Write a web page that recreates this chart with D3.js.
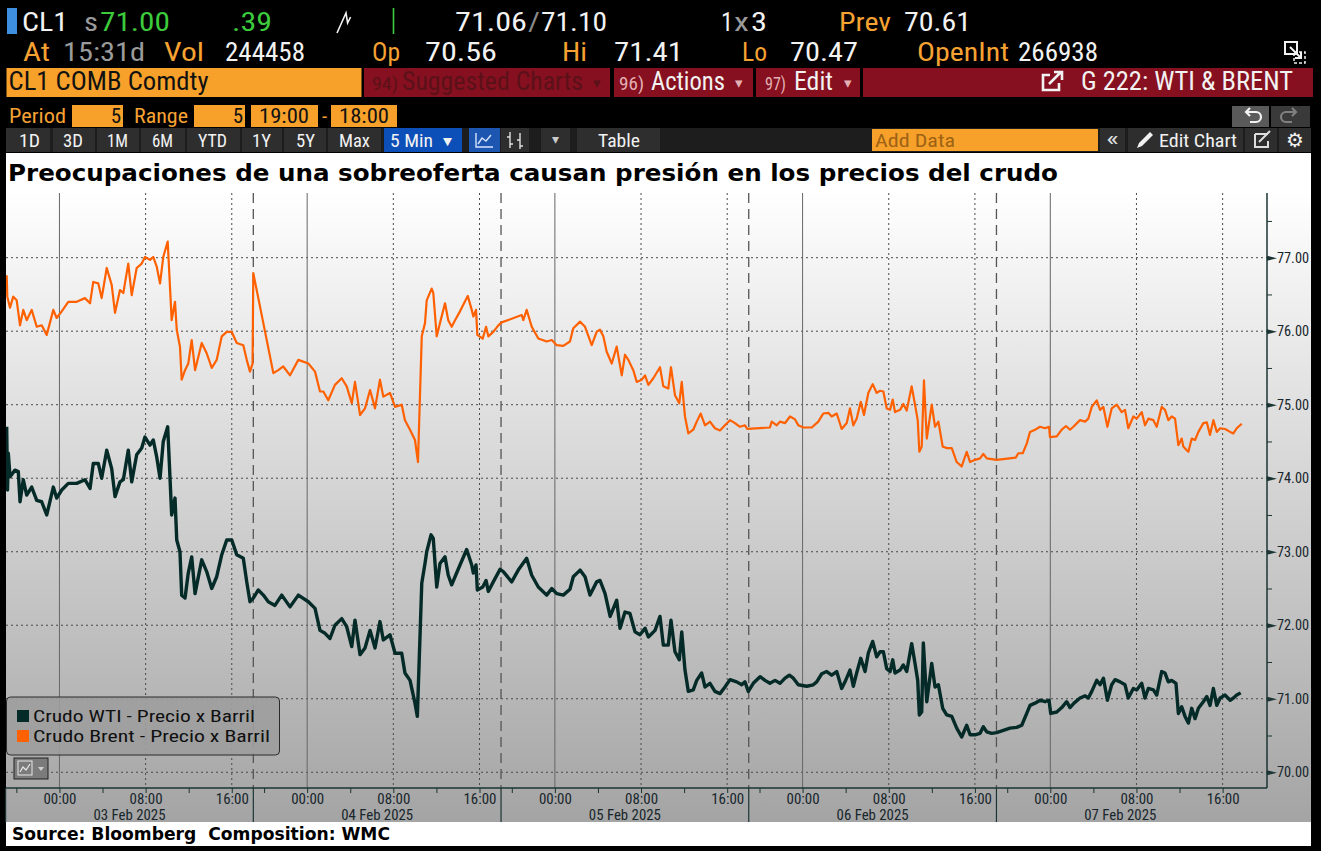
<!DOCTYPE html>
<html>
<head>
<meta charset="utf-8">
<script src="https://cdn.jsdelivr.net/npm/d3@7"></script>
<style>
  html, body { margin: 0; padding: 0; background: #000; overflow: hidden; }
  svg { display: block; }
</style>
</head>
<body>
<svg id="chart"></svg>
<script>
// ---------------- data ----------------
// x values are trading hours counted from the 19:00 open of the first session (02 Feb)
const sessionDays = ['03 Feb 2025', '04 Feb 2025', '05 Feb 2025', '06 Feb 2025', '07 Feb 2025'];
const sessionHours = 23; // 19:00 -> 18:00
const timeTickOffsets = [1, 5, 9, 13, 17, 21];
const timeTickLabels = ['', '00:00', '', '08:00', '', '16:00'];
const priceTicks = [70, 71, 72, 73, 74, 75, 76, 77];
const priceMinorTicks = [70.5, 71.5, 72.5, 73.5, 74.5, 75.5, 76.5, 77.5];
const seriesNames = ['Crudo WTI - Precio x Barril', 'Crudo Brent - Precio x Barril'];

const brentHours = [0.10,0.16,0.41,0.71,1.03,1.34,1.64,1.96,2.42,2.89,3.35,3.82,4.43,4.74,5.21,5.82,6.60,7.37,7.84,8.14,8.61,8.92,9.39,9.85,10.16,10.62,10.93,11.39,11.71,12.17,12.64,12.94,13.41,13.71,14.03,14.34,14.64,15.05,15.42,15.73,15.89,16.19,16.35,16.66,16.96,17.28,17.59,18.21,18.67,19.14,19.60,20.07,20.53,21.00,21.46,22.07,22.39,22.69,22.93,23.00,23.93,24.86,25.32,25.78,26.41,27.18,28.11,28.73,29.19,29.50,29.96,30.58,31.21,31.67,32.14,32.44,32.91,33.37,33.84,34.30,34.76,35.07,35.69,36.16,36.78,37.08,37.55,38.01,38.29,38.64,38.94,39.10,39.56,39.71,40.03,40.33,40.80,41.10,41.42,41.73,42.19,42.91,43.28,43.43,43.68,43.80,44.30,44.61,44.82,45.28,45.75,46.06,47.92,48.07,48.38,48.85,49.46,50.24,50.71,51.17,51.78,52.40,52.71,53.34,53.80,54.42,54.88,55.19,55.50,55.81,56.28,56.74,57.21,57.51,57.82,58.28,58.60,59.06,59.37,59.68,60.14,60.76,61.07,61.53,61.78,62.15,62.55,62.78,63.08,63.39,63.85,64.17,64.54,64.94,65.40,65.86,66.33,66.79,67.26,67.72,68.19,68.65,68.87,70.97,71.13,71.60,71.90,72.37,72.83,73.30,73.60,74.07,74.85,75.46,75.92,76.39,76.70,77.17,77.63,78.10,78.40,78.71,79.02,79.40,79.70,80.10,80.51,80.88,81.19,81.50,81.81,82.12,82.37,82.58,83.05,83.35,83.67,84.13,84.44,84.69,84.84,85.06,85.27,85.53,85.99,86.30,86.61,87.01,87.38,87.85,88.31,88.77,89.24,89.55,90.01,90.48,90.78,91.10,91.56,92.02,93.79,94.03,94.44,94.81,95.12,95.58,96.05,96.51,96.88,96.97,97.60,98.06,98.46,98.83,99.14,99.76,100.23,100.53,100.85,101.31,101.62,101.93,102.30,102.70,103.17,103.63,103.94,104.24,104.71,105.02,105.49,105.79,106.10,106.57,106.88,107.34,107.65,107.96,108.27,108.58,108.89,109.20,109.35,109.67,109.82,110.13,110.44,110.75,111.21,111.53,111.83,112.14,112.46,112.77,113.23,113.70,114.00,114.31,114.62,114.77];
const brentPrices = [76.76,76.47,76.32,76.47,76.42,76.08,76.29,76.15,76.29,76.06,76.08,75.95,76.29,76.18,76.27,76.40,76.40,76.45,76.38,76.67,76.65,76.45,76.86,76.63,76.25,76.56,76.52,76.92,76.49,76.86,76.92,77.01,76.97,77.01,76.88,76.65,77.01,77.22,76.15,76.40,76.02,75.79,75.34,75.47,75.56,75.88,75.47,75.84,75.70,75.50,75.61,75.93,75.99,75.99,75.84,75.81,75.61,75.45,75.56,76.79,76.11,75.43,75.47,75.52,75.40,75.61,75.56,75.45,75.18,75.18,75.06,75.27,75.36,75.25,75.02,75.31,74.86,74.95,75.20,74.95,75.34,75.11,75.16,74.97,75.00,74.79,74.66,74.52,74.22,75.93,76.11,76.42,76.58,76.52,75.93,76.11,76.38,76.15,76.06,76.15,76.27,76.48,76.29,76.20,76.29,75.95,75.90,76.06,75.93,75.99,76.08,76.12,76.22,76.15,76.29,76.06,75.90,75.86,75.88,75.81,75.80,75.86,76.04,76.13,76.06,75.81,75.99,76.02,75.93,75.72,75.56,75.79,75.40,75.68,75.61,75.47,75.31,75.34,75.40,75.27,75.36,75.51,75.25,75.22,75.51,75.13,75.02,75.31,74.84,74.61,74.66,74.77,74.88,74.72,74.77,74.68,74.65,74.72,74.79,74.75,74.70,74.72,74.67,74.69,74.77,74.72,74.77,74.75,74.84,74.80,74.72,74.69,74.69,74.77,74.88,74.89,74.84,74.88,74.67,74.75,74.95,74.72,74.81,75.04,74.86,75.16,75.28,75.16,75.19,75.18,74.95,74.93,75.07,74.90,74.93,75.01,74.92,75.25,75.00,74.79,74.36,74.43,75.33,74.54,75.00,74.70,74.77,74.43,74.41,74.41,74.22,74.16,74.36,74.22,74.25,74.27,74.33,74.27,74.26,74.25,74.28,74.34,74.34,74.47,74.63,74.66,74.70,74.68,74.70,74.56,74.57,74.66,74.71,74.66,74.70,74.79,74.77,74.81,74.97,75.06,74.93,74.97,74.70,74.95,75.00,74.90,74.93,74.68,74.84,74.81,74.90,74.72,74.81,74.79,74.70,74.97,74.93,74.79,74.84,74.81,74.45,74.54,74.43,74.38,74.36,74.54,74.52,74.63,74.75,74.76,74.59,74.79,74.63,74.68,74.67,74.63,74.61,74.68,74.72,74.74];

const wtiHours = [0.10,0.18,0.25,0.41,0.87,1.18,1.34,1.64,1.96,2.42,2.89,3.35,3.82,4.43,4.74,5.21,5.82,6.60,7.37,7.84,8.14,8.61,8.92,9.39,9.85,10.16,10.62,10.93,11.39,11.71,12.17,12.64,12.94,13.41,13.71,14.03,14.34,14.64,15.05,15.42,15.73,15.89,16.19,16.35,16.66,16.96,17.28,17.59,18.21,18.67,19.14,19.60,20.07,20.53,21.00,21.46,22.07,22.39,22.69,23.00,23.46,23.93,24.39,25.01,25.64,26.41,27.18,28.11,28.73,29.19,29.66,30.12,30.58,31.21,31.67,32.14,32.44,32.91,33.37,33.84,34.30,34.76,35.07,35.69,36.16,36.78,37.08,37.55,38.01,38.23,38.64,38.94,39.10,39.50,39.71,40.03,40.33,40.80,41.10,41.42,41.73,42.19,42.81,43.28,43.43,43.68,43.80,44.30,44.61,44.82,45.28,45.91,46.21,46.99,47.60,48.38,48.85,49.46,50.24,50.71,51.17,51.78,52.40,52.71,53.34,53.80,54.26,54.88,55.19,55.66,56.13,56.74,57.05,57.51,57.97,58.44,58.90,59.37,59.68,60.30,60.76,61.07,61.53,61.78,62.15,62.55,62.78,63.08,63.39,63.85,64.17,64.63,64.94,65.40,65.86,66.33,66.79,67.26,67.88,68.35,68.65,68.96,69.42,70.05,70.51,70.97,71.44,71.90,72.37,72.77,73.14,73.60,74.38,74.99,75.31,75.78,76.24,76.70,77.17,77.63,77.94,78.40,78.71,79.02,79.40,79.80,80.10,80.51,80.88,81.19,81.50,81.81,82.12,82.37,82.58,83.05,83.35,83.67,84.13,84.44,84.69,84.84,85.06,85.21,85.53,85.99,86.30,86.61,87.01,87.38,87.85,88.31,88.77,89.24,89.55,90.01,90.48,90.78,91.10,91.56,92.02,92.64,93.26,93.88,94.35,94.81,95.12,95.58,96.05,96.51,96.88,97.04,97.60,98.06,98.52,98.83,99.20,99.76,100.23,100.53,100.85,101.31,101.62,101.93,102.30,102.70,103.01,103.48,103.94,104.24,104.71,105.02,105.49,105.79,106.10,106.57,106.88,107.34,107.65,107.96,108.27,108.67,108.89,109.20,109.51,109.82,110.13,110.44,110.75,111.21,111.53,111.83,112.14,112.46,112.77,113.23,113.70,114.00,114.31,114.68];
const wtiPrices = [74.70,73.84,74.34,74.02,74.11,74.09,73.68,73.98,73.77,73.88,73.70,73.68,73.50,73.88,73.73,73.84,73.93,73.93,73.98,73.86,74.20,74.20,74.00,74.38,74.13,73.75,73.95,73.98,74.38,73.95,74.32,74.41,74.56,74.45,74.52,74.29,74.00,74.50,74.70,73.50,73.73,73.16,73.00,72.41,72.37,72.71,72.93,72.43,72.89,72.73,72.50,72.66,72.96,73.16,73.16,72.96,72.91,72.59,72.32,72.37,72.48,72.41,72.32,72.27,72.41,72.25,72.41,72.32,72.23,71.93,71.89,71.82,72.00,72.09,71.98,71.71,72.07,71.60,71.69,71.93,71.69,72.05,71.80,71.87,71.62,71.62,71.35,71.25,70.94,70.76,72.57,72.84,73.00,73.23,73.18,72.52,72.84,72.93,72.68,72.55,72.66,72.82,73.03,72.82,72.71,72.82,72.48,72.52,72.61,72.46,72.59,72.76,72.73,72.59,72.75,72.91,72.68,72.52,72.41,72.50,72.43,72.41,72.49,72.66,72.75,72.66,72.41,72.59,72.61,72.43,72.12,72.34,71.96,72.18,72.16,71.91,71.87,71.96,71.84,71.93,72.12,71.73,71.73,72.07,71.64,71.53,71.91,71.39,71.10,71.12,71.25,71.35,71.16,71.21,71.10,71.07,71.16,71.26,71.23,71.19,71.23,71.10,71.21,71.30,71.25,71.21,71.25,71.21,71.28,71.32,71.28,71.19,71.17,71.19,71.23,71.34,71.37,71.32,71.37,71.14,71.23,71.39,71.17,71.35,71.55,71.37,71.62,71.78,71.57,71.64,71.64,71.41,71.37,71.53,71.35,71.39,71.46,71.37,71.75,71.48,71.25,70.78,70.82,71.76,70.96,71.48,71.16,71.19,70.87,70.78,70.76,70.60,70.48,70.64,70.51,70.51,70.53,70.62,70.55,70.53,70.54,70.57,70.60,70.61,70.64,70.80,70.91,70.94,70.98,70.96,70.98,70.80,70.82,70.88,70.96,70.88,70.94,71.01,71.04,71.01,71.10,71.25,71.19,71.28,70.98,71.19,71.26,71.23,71.19,71.01,71.14,71.12,71.21,71.01,71.14,71.12,71.05,71.37,71.35,71.23,71.25,71.21,70.80,70.89,70.76,70.67,70.87,70.73,70.87,70.96,71.03,70.91,71.14,70.91,71.01,71.05,70.98,71.01,71.05,71.08];

// ---------------- setup ----------------
const W = 1321, H = 851;
const narrow = "'Liberation Sans Narrow','Roboto Condensed','Arial Narrow',Roboto,sans-serif";
const heavy = "'DejaVu Sans',Verdana,sans-serif";
const AMBER = '#f6a233', WHITE = '#f2f2f2', GREY = '#9b9b9b', GREEN = '#3ccb3c';
const RED = '#86101f', AXIS = '#1b3434', INK = '#17262c';

const svg = d3.select('#chart').attr('width', W).attr('height', H);
svg.append('rect').attr('width', W).attr('height', H).attr('fill', '#000');

function txt(g, x, y, s, fill, size, w, anchor) {
  const t = g.append('text')
    .attr('x', x).attr('y', y)
    .attr('fill', fill)
    .attr('font-size', size)
    .attr('font-family', narrow)
    .text(s);
  if (w) t.attr('textLength', w).attr('lengthAdjust', 'spacingAndGlyphs');
  if (anchor) t.attr('text-anchor', anchor);
  return t;
}
function box(g, x, y, w, h, fill) {
  return g.append('rect').attr('x', x).attr('y', y).attr('width', w).attr('height', h).attr('fill', fill);
}

// ---------------- terminal header ----------------
const head = svg.append('g');
// row 1 - quote line
box(head, 7, 8, 10, 26, '#3f8fe0');
txt(head, 22, 31, 'CL1', WHITE, 26, 46);
txt(head, 84, 31, 's', GREY, 26, 14);
txt(head, 100, 31, '71.00', GREEN, 26, 70);
txt(head, 232, 31, '.39', GREEN, 26, 40);
head.append('path').attr('d', 'M337,33 L346,13 L347.6,23 L350.6,17')
  .attr('fill', 'none').attr('stroke', WHITE).attr('stroke-width', 1.6);
head.append('line').attr('x1', 393.5).attr('x2', 393.5).attr('y1', 8).attr('y2', 34)
  .attr('stroke', GREEN).attr('stroke-width', 1.6);
txt(head, 455, 31, '71.06', WHITE, 26, 72);
txt(head, 528, 31, '/', '#8a8a8a', 26, 12);
txt(head, 541, 31, '71.10', WHITE, 26, 66);
txt(head, 721, 31, '1', WHITE, 26, 12);
txt(head, 734, 31, 'x', GREY, 26, 15);
txt(head, 751, 31, '3', WHITE, 26, 16);
txt(head, 839, 31, 'Prev', AMBER, 26, 52);
txt(head, 904, 31, '70.61', WHITE, 26, 67);

// row 2 - session stats
txt(head, 23, 61, 'At', AMBER, 26, 27);
txt(head, 63, 61, '15:31d', GREY, 26, 82);
txt(head, 164, 61, 'Vol', AMBER, 26, 40);
txt(head, 225, 61, '244458', WHITE, 26, 80);
txt(head, 372, 61, 'Op', AMBER, 26, 28);
txt(head, 425, 61, '70.56', WHITE, 26, 72);
txt(head, 562, 61, 'Hi', AMBER, 26, 25);
txt(head, 614, 61, '71.41', WHITE, 26, 69);
txt(head, 742, 61, 'Lo', AMBER, 26, 25);
txt(head, 790, 61, '70.47', WHITE, 26, 68);
txt(head, 917, 61, 'OpenInt', AMBER, 26, 92);
txt(head, 1018, 61, '266938', WHITE, 26, 80);
head.append('rect').attr('x', 1285).attr('y', 42).attr('width', 12).attr('height', 12)
  .attr('fill', 'none').attr('stroke', WHITE).attr('stroke-width', 2);
head.append('rect').attr('x', 1294).attr('y', 52).attr('width', 11).attr('height', 11)
  .attr('fill', 'none').attr('stroke', WHITE).attr('stroke-width', 1.5).attr('stroke-dasharray', '3,2');
head.append('path').attr('d', 'M1290,47 L1301,58 M1301,52 L1301,58 L1295,58')
  .attr('fill', 'none').attr('stroke', WHITE).attr('stroke-width', 2);

// row 3 - security + menu bar
box(head, 6.5, 68, 355, 29, '#f7a12b');
txt(head, 8.5, 90, 'CL1 COMB Comdty', '#111', 25, 200);
box(head, 364, 68, 246, 29, RED);
txt(head, 372, 90, '94)', '#5b1119', 19, 26);
txt(head, 402, 90, 'Suggested Charts', '#5b1119', 25, 181);
txt(head, 593, 88, '▾', '#5b1119', 15);
box(head, 614, 68, 139, 29, RED);
txt(head, 619, 90, '96)', '#e4b0b4', 19, 25);
txt(head, 651, 90, 'Actions', WHITE, 25, 74);
txt(head, 735, 88, '▾', '#e4b0b4', 15);
box(head, 756, 68, 104, 29, RED);
txt(head, 765, 90, '97)', '#e4b0b4', 19, 21);
txt(head, 794, 90, 'Edit', WHITE, 25, 39);
txt(head, 844, 88, '▾', '#e4b0b4', 15);
box(head, 863, 68, 450, 29, RED);
head.append('path').attr('d', 'M1050,75 L1043,75 L1043,90 L1059,90 L1059,83')
  .attr('fill', 'none').attr('stroke', WHITE).attr('stroke-width', 2.6);
head.append('path').attr('d', 'M1049,84 L1061,72 M1054,72 L1062,72 L1062,80')
  .attr('fill', 'none').attr('stroke', WHITE).attr('stroke-width', 2.6);
txt(head, 1081, 90, 'G 222: WTI & BRENT', WHITE, 25, 212);

// row 4 - period / range
txt(head, 9, 123, 'Period', AMBER, 21, 57);
box(head, 72, 105, 51, 22, '#f7a12b');
txt(head, 121, 123, '5', '#111', 21, null, 'end');
txt(head, 134, 123, 'Range', AMBER, 21, 54);
box(head, 194, 105, 51, 22, '#f7a12b');
txt(head, 243, 123, '5', '#111', 21, null, 'end');
box(head, 251, 105, 67, 22, '#f7a12b');
txt(head, 259, 123, '19:00', '#111', 21, 50);
txt(head, 322, 123, '-', AMBER, 21);
box(head, 331, 105, 66, 22, '#f7a12b');
txt(head, 339, 123, '18:00', '#111', 21, 50);
box(head, 1232, 106, 37, 21, '#5a5a5a');
head.append('path').attr('d', 'M1247,112 L1256,112 A5,5 0 0 1 1256,122 L1250,122 M1250,108 L1246,112 L1250,116')
  .attr('fill', 'none').attr('stroke', WHITE).attr('stroke-width', 2.2);
box(head, 1271, 106, 39, 21, '#3a3a3a');
head.append('path').attr('d', 'M1295,112 L1286,112 A5,5 0 0 0 1286,122 L1292,122 M1292,108 L1296,112 L1292,116')
  .attr('fill', 'none').attr('stroke', '#808080').attr('stroke-width', 2.2);

// row 5 - toolbar
box(head, 6, 128, 1305, 24, '#1d1d1d');
const tools = [
  ['1D', 6, 50, 19, 21], ['3D', 53, 95, 63, 20], ['1M', 97, 139, 107, 21], ['6M', 141, 185, 152, 21],
  ['YTD', 187, 240, 198, 29], ['1Y', 242, 282, 252, 19], ['5Y', 284, 326, 296, 19], ['Max', 328, 381, 339, 31]
];
tools.forEach(t => {
  box(head, t[1], 128, t[2] - t[1], 24, '#2e2e2e');
  txt(head, t[3], 147, t[0], WHITE, 19, t[4]);
});
box(head, 384, 128, 78, 24, '#0d4fb8');
txt(head, 390, 147, '5 Min', WHITE, 19, 43);
txt(head, 440, 146, '▼', WHITE, 14, 15);
box(head, 469, 128, 31, 24, '#1c56b0');
head.append('path').attr('d', 'M476,133 L476,147 L493,147 M478,144 L482,138 L486,141 L491,135')
  .attr('fill', 'none').attr('stroke', '#d8e4ff').attr('stroke-width', 1.4);
box(head, 501, 128, 28, 24, '#2e2e2e');
head.append('path').attr('d', 'M510,132 L510,148 M507,137 L510,137 M510,144 L513,144 M520,133 L520,149 M517,140 L520,140 M520,146 L523,146')
  .attr('fill', 'none').attr('stroke', '#e0e0e0').attr('stroke-width', 1.4);
box(head, 541, 128, 29, 24, '#2e2e2e');
txt(head, 555, 144, '▾', '#cccccc', 14, null, 'middle');
box(head, 577, 128, 83, 24, '#2e2e2e');
txt(head, 598, 147, 'Table', WHITE, 19, 42);
box(head, 872, 129, 226, 22, '#f7a12b');
txt(head, 875, 147, 'Add Data', '#9d6214', 19, 80);
box(head, 1100, 128, 25, 24, '#2e2e2e');
txt(head, 1106, 146, '«', '#dddddd', 20, 13);
box(head, 1128, 128, 115, 24, '#2e2e2e');
head.append('path').attr('d', 'M1137,148 L1139,143 L1150,132 L1153,135 L1142,146 Z')
  .attr('fill', WHITE);
txt(head, 1159, 147, 'Edit Chart', WHITE, 19, 78);
box(head, 1245, 128, 32, 24, '#2e2e2e');
head.append('path').attr('d', 'M1255,134 L1268,134 M1255,134 L1255,147 L1268,147 L1268,141 M1259,142 L1270,131')
  .attr('fill', 'none').attr('stroke', '#dddddd').attr('stroke-width', 2);
box(head, 1279, 128, 32, 24, '#2e2e2e');
txt(head, 1295, 147, '⚙', WHITE, 20, null, 'middle').attr('font-family', heavy);

// ---------------- chart panel ----------------
const defs = svg.append('defs');
const grad = defs.append('linearGradient').attr('id', 'bg').attr('x1', 0).attr('x2', 0).attr('y1', 0).attr('y2', 1);
grad.append('stop').attr('offset', '0%').attr('stop-color', '#ffffff');
grad.append('stop').attr('offset', '100%').attr('stop-color', '#a4a4a4');
defs.append('clipPath').attr('id', 'plotClip')
  .append('rect').attr('x', 6).attr('y', 193).attr('width', 1261).attr('height', 595);

box(svg, 6, 153, 1305, 38, '#ffffff');
box(svg, 6, 190, 1305, 632, 'url(#bg)');

svg.append('text')
  .attr('x', 8).attr('y', 181)
  .attr('font-family', heavy).attr('font-weight', 'bold').attr('font-size', 23)
  .attr('fill', '#000')
  .attr('textLength', 1050).attr('lengthAdjust', 'spacingAndGlyphs')
  .text('Preocupaciones de una sobreoferta causan presión en los precios del crudo');

const plot = { left: 6, right: 1267, top: 193, bottom: 788 };
const x = d3.scaleLinear().domain([0, 117.12]).range([5.6, plot.right]);
const y = d3.scaleLinear().domain([69.786, 77.88]).range([plot.bottom, plot.top]);

const timeTicks = [];
sessionDays.forEach((d, k) => timeTickOffsets.forEach(o => timeTicks.push(k * sessionHours + o)));

// grid
const grid = svg.append('g');
priceTicks.forEach(p => {
  grid.append('line')
    .attr('x1', plot.left).attr('x2', plot.right).attr('y1', y(p)).attr('y2', y(p))
    .attr('stroke', '#4a4a4a').attr('stroke-width', 1).attr('stroke-dasharray', '2,3');
});
timeTicks.forEach((h, i) => {
  const o = timeTickOffsets[i % timeTickOffsets.length];
  if (o === 5) {
    grid.append('line').attr('x1', x(h)).attr('x2', x(h)).attr('y1', plot.top).attr('y2', plot.bottom)
      .attr('stroke', '#666').attr('stroke-width', 1);
  } else if (o === 13 || o === 21) {
    grid.append('line').attr('x1', x(h)).attr('x2', x(h)).attr('y1', plot.top).attr('y2', plot.bottom)
      .attr('stroke', '#4a4a4a').attr('stroke-width', 1).attr('stroke-dasharray', '2,3');
  }
});
for (let k = 1; k < sessionDays.length; k++) {
  grid.append('line').attr('x1', x(k * sessionHours)).attr('x2', x(k * sessionHours))
    .attr('y1', plot.top).attr('y2', plot.bottom)
    .attr('stroke', '#555').attr('stroke-width', 1.3).attr('stroke-dasharray', '10,6');
}

// series
const line = d3.line().x(d => x(d[0])).y(d => y(d[1]));
const marks = svg.append('g').attr('clip-path', 'url(#plotClip)');
marks.append('path')
  .datum(d3.zip(brentHours, brentPrices))
  .attr('d', line)
  .attr('fill', 'none').attr('stroke', '#ff6000').attr('stroke-width', 2.2)
  .attr('stroke-linejoin', 'round');
marks.append('path')
  .datum(d3.zip(wtiHours, wtiPrices))
  .attr('d', line)
  .attr('fill', 'none').attr('stroke', '#052b28').attr('stroke-width', 3.4)
  .attr('stroke-linejoin', 'round');

// x axis
const xAxis = d3.axisBottom(x)
  .tickValues(timeTicks)
  .tickSize(5)
  .tickSizeOuter(0)
  .tickPadding(1)
  .tickFormat((d, i) => timeTickLabels[i % timeTickLabels.length]);
const xAxisG = svg.append('g').attr('transform', `translate(0,${plot.bottom})`).call(xAxis);
xAxisG.select('.domain').attr('stroke', AXIS).attr('stroke-width', 1.5)
  .attr('d', `M${plot.left},0H${plot.right}`);
xAxisG.selectAll('.tick line').attr('stroke', AXIS);
xAxisG.selectAll('.tick text')
  .attr('fill', INK).attr('font-family', narrow).attr('font-size', 14)
  .filter(function () { return this.textContent !== ''; })
  .attr('textLength', 33).attr('lengthAdjust', 'spacingAndGlyphs');

for (let k = 0; k < sessionDays.length; k++) {
  svg.append('line').attr('x1', x(k * sessionHours)).attr('x2', x(k * sessionHours))
    .attr('y1', plot.bottom).attr('y2', 822)
    .attr('stroke', AXIS).attr('stroke-width', 1.2);
}
sessionDays.forEach((d, k) => {
  txt(svg, x(k * sessionHours + sessionHours / 2), 820, d, INK, 14, 72, 'middle');
});

// y axis (right)
const yAxisG = svg.append('g').attr('transform', `translate(${plot.right},0)`);
yAxisG.append('line').attr('y1', plot.top).attr('y2', plot.bottom)
  .attr('stroke', AXIS).attr('stroke-width', 1.5);
const yMinor = yAxisG.append('g').call(d3.axisRight(y).tickValues(priceMinorTicks).tickSize(5).tickFormat(''));
yMinor.select('.domain').remove();
yMinor.selectAll('.tick line').attr('stroke', AXIS);
const yMajor = yAxisG.append('g').call(d3.axisRight(y).tickValues(priceTicks).tickSize(0).tickPadding(10).tickFormat(d3.format('.2f')));
yMajor.select('.domain').remove();
yMajor.selectAll('.tick').append('path').attr('d', 'M0,-2.5L10,0L0,2.5Z').attr('fill', AXIS);
yMajor.selectAll('.tick text')
  .attr('fill', INK).attr('font-family', narrow).attr('font-size', 14)
  .attr('textLength', 32).attr('lengthAdjust', 'spacingAndGlyphs');

// legend
const legend = svg.append('g');
legend.append('rect').attr('x', 6.5).attr('y', 697).attr('width', 273).attr('height', 58).attr('rx', 4)
  .attr('fill', '#9d9d9d').attr('fill-opacity', 0.9).attr('stroke', '#2a2a2a').attr('stroke-width', 1);
const legendColors = ['#052b28', '#ff6000'];
const legendWidths = [222, 237];
seriesNames.forEach((name, i) => {
  box(legend, 17, 710 + i * 20, 12, 12, legendColors[i]);
  txt(legend, 33, 722 + i * 20, name, '#101010', 16.5, legendWidths[i]);
});
legend.append('rect').attr('x', 14).attr('y', 758).attr('width', 34).attr('height', 21)
  .attr('fill', '#7b7b7b').attr('stroke', '#222').attr('stroke-width', 1);
legend.append('rect').attr('x', 18).attr('y', 761).attr('width', 14).attr('height', 14)
  .attr('fill', 'none').attr('stroke', '#e8e8e8').attr('stroke-width', 1);
legend.append('path').attr('d', 'M20,772 L23,767 L26,770 L30,764')
  .attr('fill', 'none').attr('stroke', '#e8e8e8').attr('stroke-width', 1.2);
legend.append('path').attr('d', 'M38,767 L44,767 L41,771 Z').attr('fill', '#cfcfcf');

// source strip
box(svg, 6, 822, 1305, 24, '#ffffff');
svg.append('text')
  .attr('x', 12).attr('y', 840)
  .attr('font-family', heavy).attr('font-weight', 'bold').attr('font-size', 17)
  .attr('fill', '#000').style('white-space', 'pre')
  .attr('textLength', 378).attr('lengthAdjust', 'spacingAndGlyphs')
  .text('Source: Bloomberg  Composition: WMC');
</script>
</body>
</html>
